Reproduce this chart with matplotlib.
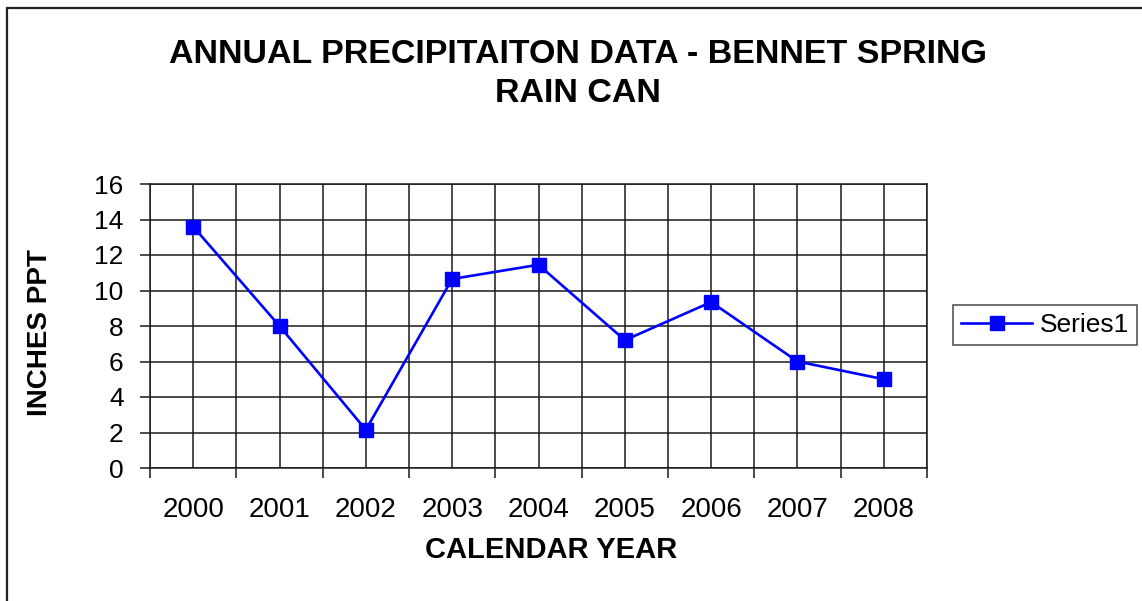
import matplotlib
matplotlib.use("Agg")
import matplotlib.pyplot as plt
from matplotlib.patches import Rectangle
from matplotlib.lines import Line2D

years = ["2000", "2001", "2002", "2003", "2004", "2005", "2006", "2007", "2008"]
precip = [13.6, 8.0, 2.15, 10.65, 11.45, 7.2, 9.35, 6.0, 5.0]
series_name = "Series1"
title = "ANNUAL PRECIPITAITON DATA - BENNET SPRING\nRAIN CAN"
xlabel = "CALENDAR YEAR"
ylabel = "INCHES PPT"
yticks = [0, 2, 4, 6, 8, 10, 12, 14, 16]

plt.rcParams['font.family'] = ['Liberation Sans', 'DejaVu Sans']

W, H = 1142, 601
fig = plt.figure(figsize=(W / 100, H / 100), dpi=100)
fig.patch.set_facecolor("white")

# outer chart border (extends beyond the image to the right/bottom)
fig.patches.append(Rectangle((7 / W, -0.1), 1.2, 1 - 8 / H + 0.1, transform=fig.transFigure,
                             fill=False, edgecolor="#222222", linewidth=1.6))

L, R, T, B = 150, 927, 184, 468
ax = fig.add_axes([L / W, 1 - B / H, (R - L) / W, (B - T) / H])

x = list(range(len(years)))
ax.plot(x, precip, color="#0000FF", linewidth=1.9, marker="s", markersize=10.5,
        markerfacecolor="#0000FF", markeredgecolor="#0000FF", zorder=5)

n = len(years)
ax.set_xlim(-0.5, n - 0.5)
ax.set_ylim(0, 16)

# gridlines
for i in range(2 * n + 1):
    gx = -0.5 + 0.5 * i
    ax.axvline(gx, color="#1a1a1a", linewidth=1.1, zorder=1)
for yv in yticks:
    ax.axhline(yv, color="#1a1a1a", linewidth=1.1, zorder=1)

for s in ax.spines.values():
    s.set_color("#1a1a1a")
    s.set_linewidth(1.1)

ax.set_yticks(yticks)
ax.set_yticklabels([str(v) for v in yticks], fontsize=19)
ax.tick_params(axis="y", direction="out", length=7, width=1.1, color="#1a1a1a", pad=12)

# x: minor ticks at category boundaries, labels at centers
ax.set_xticks(x)
ax.set_xticklabels(years, fontsize=20)
ax.tick_params(axis="x", which="major", length=0, pad=21)
ax.set_xticks([-0.5 + i for i in range(n + 1)], minor=True)
ax.tick_params(axis="x", which="minor", direction="out", length=7, width=1.1, color="#1a1a1a")

fig.text(578 / W, 1 - 74 / H, title, ha="center", va="center", fontsize=24.5,
         fontweight="bold", linespacing=1.3)
fig.text(551 / W, 1 - 550 / H, xlabel, ha="center", va="center", fontsize=21, fontweight="bold")
fig.text(40 / W, 1 - 333 / H, ylabel, ha="center", va="center", fontsize=20,
         fontweight="bold", rotation=90)

handle = Line2D([0], [0], color="#0000FF", linewidth=1.9, marker="s", markersize=10.5,
                markerfacecolor="#0000FF", markeredgecolor="#0000FF")
leg = fig.legend([handle], [series_name], loc="center left",
                 bbox_to_anchor=(953 / W, 1 - 325 / H), fontsize=19, frameon=True,
                 fancybox=False, edgecolor="#1a1a1a", handlelength=2.7, handletextpad=0.3,
                 borderpad=0.3, borderaxespad=0)
leg.get_frame().set_linewidth(1.1)

fig.savefig("out.png", dpi=100, facecolor="white")
